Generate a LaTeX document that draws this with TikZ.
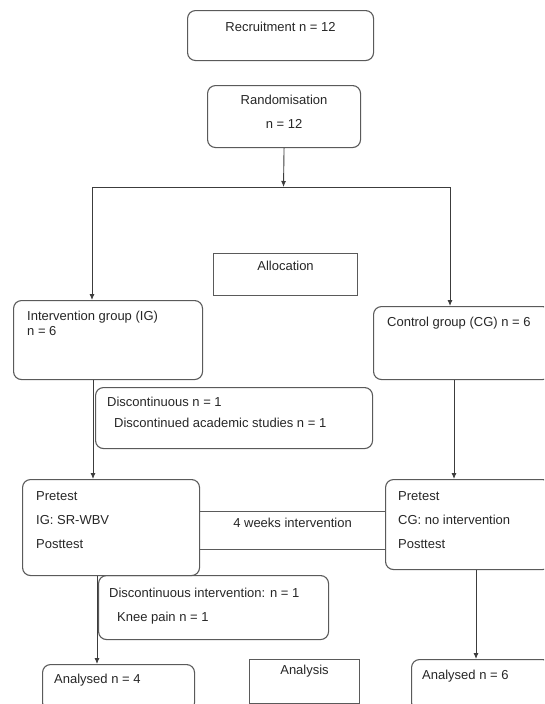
\documentclass[tikz,border=0pt]{standalone}
\usepackage{fontspec}
\setmainfont{Liberation Sans}
\usetikzlibrary{arrows,arrows.meta,positioning}
\definecolor{boxgray}{HTML}{5A5A5A}
\definecolor{linegray}{HTML}{3C3C3C}
\definecolor{txtgray}{HTML}{262626}
\tikzstyle{block} = [rectangle, draw=boxgray, line width=1.1pt,
    rounded corners=8pt, inner sep=0pt, anchor=north west]
\tikzstyle{flat} = [rectangle, draw=boxgray, line width=1.1pt,
    inner sep=0pt, anchor=north west]
\tikzstyle{txt} = [anchor=north west, align=left, inner sep=0pt,
    text=txtgray, font=\fontsize{13}{24}\selectfont]
\tikzstyle{line} = [draw=linegray, line width=0.9pt]
\tikzstyle{arr} = [line, -{Latex[length=6pt,width=5pt]}]
\begin{document}
\begin{tikzpicture}[x=1pt, y=-1pt]
  \useasboundingbox (0,0) rectangle (544,704);
  \clip (0,0) rectangle (544,704);
  % Place nodes
  \node [block, minimum width=186pt, minimum height=50pt,
  label={[txt, anchor=north, yshift=-12pt]north:Recruitment n = 12}]
  (recruit) at (187,10) {};
  \node [block, minimum width=153pt, minimum height=62pt,
  label={[txt, anchor=north, align=center, yshift=-10pt]north:{Randomisation\\n = 12}}]
  (random) at (207,85) {};
  \node [flat, minimum width=144pt, minimum height=42pt,
  label={[txt, anchor=north, yshift=-8pt]north:Allocation}]
  (alloc) at (213,253) {};
  \node [block, minimum width=189pt, minimum height=79pt,
  label={[txt, font=\fontsize{13}{14.5}\selectfont, xshift=14pt, yshift=-11pt]north west:{Intervention group (IG)\\n = 6}}]
  (ig) at (13,300) {};
  \node [block, minimum width=177pt, minimum height=73pt,
  label={[txt, xshift=14pt, yshift=-11pt]north west:{Control group (CG) n = 6}}]
  (cg) at (373,306) {};
  \node [block, minimum width=277pt, minimum height=61pt,
  label={[txt, font=\fontsize{13}{21}\selectfont, xshift=12pt, yshift=-10pt]north west:{Discontinuous n = 1\\\hspace*{7pt}Discontinued academic studies n = 1}}]
  (dropig) at (95,387) {};
  \node [flat, minimum width=186pt, minimum height=38pt,
  label={[txt, anchor=north, yshift=-7pt]north:4 weeks intervention}]
  (weeks) at (199,511) {};
  \node [block, minimum width=177pt, minimum height=96pt,
  label={[txt, xshift=14pt, yshift=-12pt]north west:{Pretest\\IG: SR-WBV\\Posttest}}]
  (preig) at (22,479) {};
  \node [block, minimum width=165pt, minimum height=90pt,
  label={[txt, xshift=13pt, yshift=-12pt]north west:{Pretest\\CG: no intervention\\Posttest}}]
  (precg) at (385,479) {};
  \node [block, minimum width=230pt, minimum height=64pt,
  label={[txt, xshift=11pt, yshift=-13pt]north west:{Discontinuous intervention: n = 1\\\hspace*{8pt}Knee pain n = 1}}]
  (dropint) at (98,575) {};
  \node [block, minimum width=152pt, minimum height=46pt,
  label={[txt, xshift=12pt, yshift=-10pt]north west:{Analysed n = 4}}]
  (anig) at (42,664) {};
  \node [flat, minimum width=110pt, minimum height=44pt,
  label={[txt, anchor=north, yshift=-6pt]north:Analysis}]
  (analysis) at (249,659) {};
  \node [block, minimum width=139pt, minimum height=51pt,
  label={[txt, xshift=11pt, yshift=-11pt]north west:{Analysed n = 6}}]
  (ancg) at (411,659) {};
  % Columns of the edges
  \coordinate (split) at (283.5,187);
  \coordinate (igcol) at (92,187);
  \coordinate (cgcol) at (450,187);
  \coordinate (igmid) at (93,0);
  \coordinate (cgmid) at (454,0);
  \coordinate (igend) at (97,0);
  \coordinate (cgend) at (476,0);
  % Draw edges
  \draw [arr] (random.south) -- (split);
  \draw [line] (igcol) -- (cgcol);
  \draw [arr] (igcol) -- (igcol |- ig.north);
  \draw [arr] (cgcol) -- (cgcol |- cg.north);
  \draw [arr] (igmid |- ig.south) -- (igmid |- preig.north);
  \draw [arr] (cgmid |- cg.south) -- (cgmid |- precg.north);
  \draw [arr] (igend |- preig.south) -- (igend |- anig.north);
  \draw [arr] (cgend |- precg.south) -- (cgend |- ancg.north);
\end{tikzpicture}
\end{document}
